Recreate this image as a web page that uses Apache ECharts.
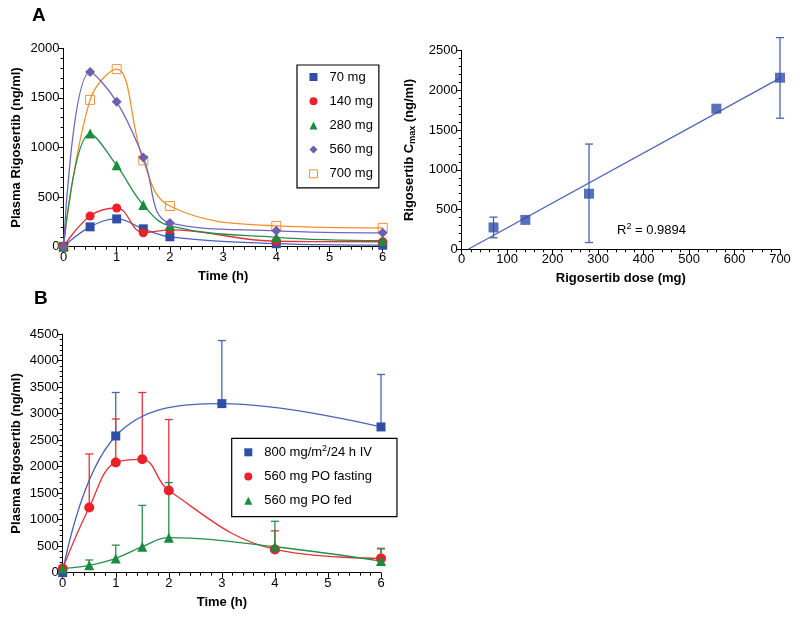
<!DOCTYPE html>
<html><head><meta charset="utf-8">
<script src="https://cdn.jsdelivr.net/npm/echarts@6/dist/echarts.min.js"></script>
<style>html,body{margin:0;padding:0;background:#fff}#c{width:800px;height:618px}</style>
</head><body><div id="c"></div>
<script>
// ---------- Panel A (left): plasma concentration by dose ----------
const timesA = [0, 0.5, 1, 1.5, 2, 4, 6];
const doseNames = ['70 mg', '140 mg', '280 mg', '560 mg', '700 mg'];
const mg70  = [0, 200, 280, 180, 100, 30, 15];
const mg140 = [0, 310, 390, 140, 170, 55, 50];
const mg280 = [0, 1140, 820, 420, 210, 95, 60];
const mg560 = [0, 1760, 1460, 900, 240, 160, 140];
const mg700 = [0, 1480, 1790, 870, 410, 210, 190];

// ---------- Panel A (right): Cmax vs dose ----------
const doses    = [70, 140, 280, 560, 700];
const cmax     = [275, 370, 700, 1770, 2160];
const cmaxLow  = [145, null, 85, null, 1650];
const cmaxHigh = [405, null, 1325, null, 2665];
const r2Text = '0.9894';

// ---------- Panel B ----------
const timesIV = [0, 1, 3, 6];
const ivMean  = [0, 2580, 3190, 2750];
const ivUpper = [null, 3400, 4380, 3740];
const timesPO = [0, 0.5, 1, 1.5, 2, 4, 6];
const fastMean  = [80, 1230, 2080, 2140, 1550, 440, 270];
const fastUpper = [null, 2240, 2900, 3400, 2890, 790, 460];
const fedMean   = [80, 140, 270, 490, 660, 490, 220];
const fedUpper  = [null, 240, 520, 1270, 1700, 970, 450];
const bNames = ['800 mg/m2/24 h IV', '560 mg PO fasting', '560 mg PO fed'];

const FONT = '"Liberation Sans", Arial, Helvetica, sans-serif';
const BLUE = '#2f4ea6', RED = '#e8212b', GREEN = '#1b8a3f', PURPLE = '#6d5fb0', ORANGE = '#f0923a';
const BLUE_L = '#4a63b4', RED_L = '#e83038', GREEN_L = '#23904a', PURPLE_L = '#7565bd', ORANGE_L = '#f3902a';

const pairs = (xs, ys) => xs.map((x, i) => [x, ys[i]]);

function axis(extra) {
  return Object.assign({
    type: 'value',
    nameLocation: 'middle',
    axisLine: { show: true, onZero: false, lineStyle: { color: '#000', width: 1 } },
    axisTick: { show: true, length: 5, lineStyle: { color: '#000', width: 1 } },
    minorTick: { show: true, splitNumber: 5, length: 3, lineStyle: { color: '#000', width: 1 } },
    splitLine: { show: false },
    minorSplitLine: { show: false },
    axisLabel: { color: '#000', fontSize: 13, fontFamily: FONT, margin: 4, showMinLabel: true, showMaxLabel: true,
      formatter: v => String(v) },
    nameTextStyle: { color: '#000', fontSize: 13, fontWeight: 'bold', fontFamily: FONT }
  }, extra);
}

function errBar(color, capW, twoSided) {
  return function (params, api) {
    const x = api.value(0), lo = api.value(1), hi = api.value(2);
    const p1 = api.coord([x, lo]), p2 = api.coord([x, hi]);
    const st = { stroke: color, lineWidth: 1.3 };
    const ch = [
      { type: 'line', shape: { x1: p1[0], y1: p1[1], x2: p2[0], y2: p2[1] }, style: st },
      { type: 'line', shape: { x1: p2[0] - capW / 2, y1: p2[1], x2: p2[0] + capW / 2, y2: p2[1] }, style: st }
    ];
    if (twoSided) ch.push({ type: 'line', shape: { x1: p1[0] - capW / 2, y1: p1[1], x2: p1[0] + capW / 2, y2: p1[1] }, style: st });
    return { type: 'group', children: ch };
  };
}

// regression from data
const n = doses.length;
const mx = doses.reduce((a, b) => a + b, 0) / n;
const my = cmax.reduce((a, b) => a + b, 0) / n;
let sxy = 0, sxx = 0;
for (let i = 0; i < n; i++) { sxy += (doses[i] - mx) * (cmax[i] - my); sxx += (doses[i] - mx) ** 2; }
const slope = sxy / sxx, icpt = my - slope * mx;
const xEnd = doses[n - 1];
const regLine = [[-icpt / slope, 0], [xEnd, slope * xEnd + icpt]];

const errA = doses.map((d, i) => [d, cmaxLow[i], cmaxHigh[i]]).filter(r => r[1] != null);
const errIV = timesIV.map((t, i) => [t, ivMean[i], ivUpper[i]]).filter(r => r[2] != null);
const errFast = timesPO.map((t, i) => [t, fastMean[i], fastUpper[i]]).filter(r => r[2] != null);
const errFed = timesPO.map((t, i) => [t, fedMean[i], fedUpper[i]]).filter(r => r[2] != null);

const SM = 0.4;
function lineSeries(name, xs, ys, sym, size, color, lineColor, xi, z, itemStyle) {
  return {
    type: 'line', name, data: pairs(xs, ys), xAxisIndex: xi, yAxisIndex: xi,
    smooth: SM, symbol: sym, symbolSize: size, showAllSymbol: true, z: z || 3,
    itemStyle: itemStyle || { color, borderWidth: 0 },
    lineStyle: { color: lineColor, width: 1.3 },
    emphasis: { disabled: true }, animation: false
  };
}

const chart = echarts.init(document.getElementById('c'), null, { renderer: 'canvas' });
chart.setOption({
  animation: false,
  backgroundColor: '#fff',
  textStyle: { fontFamily: FONT },
  grid: [
    { left: 63.5, top: 48.3, width: 319.2, height: 198.4, containLabel: false, outerBoundsMode: 'none' },
    { left: 461.7, top: 50.7, width: 318.3, height: 198.6, containLabel: false, outerBoundsMode: 'none' },
    { left: 62.7, top: 334.2, width: 318.3, height: 238.5, containLabel: false, outerBoundsMode: 'none' }
  ],
  xAxis: [
    axis({ gridIndex: 0, min: 0, max: 6, interval: 1, name: 'Time (h)', nameGap: 23 }),
    axis({ gridIndex: 1, min: 0, max: 700, interval: 100, name: 'Rigosertib dose (mg)', nameGap: 23 }),
    axis({ gridIndex: 2, min: 0, max: 6, interval: 1, name: 'Time (h)', nameGap: 23 })
  ],
  yAxis: [
    axis({ gridIndex: 0, min: 0, max: 2000, interval: 500, name: 'Plasma Rigosertib (ng/ml)', nameGap: 41 }),
    axis({ gridIndex: 1, min: 0, max: 2500, interval: 500, name: 'Rigosertib C{sub|max} (ng/ml)', nameGap: 45,
      nameTextStyle: { color: '#000', fontSize: 13, fontWeight: 'bold', fontFamily: FONT,
        rich: { sub: { fontSize: 9, fontWeight: 'bold', fontFamily: FONT, color: '#000', padding: [6, 0, 0, 0] } } } }),
    axis({ gridIndex: 2, min: 0, max: 4500, interval: 500, name: 'Plasma Rigosertib (ng/ml)', nameGap: 40 })
  ],
  legend: [
    {
      orient: 'vertical', left: 297, top: 65, selectedMode: false,
      data: [
        { name: '70 mg', icon: 'rect', itemStyle: { color: BLUE, borderWidth: 0 } },
        { name: '140 mg', icon: 'circle', itemStyle: { color: RED, borderWidth: 0 } },
        { name: '280 mg', icon: 'triangle', itemStyle: { color: GREEN, borderWidth: 0 } },
        { name: '560 mg', icon: 'diamond', itemStyle: { color: PURPLE, borderWidth: 0 } },
        { name: '700 mg', icon: 'rect', itemStyle: { color: '#fff', borderColor: ORANGE, borderWidth: 1 } }
      ],
      itemWidth: 8, itemHeight: 8, itemGap: 10.2, padding: [5, 6, 7, 12],
      borderColor: '#000', borderWidth: 1.2, backgroundColor: '#fff',
      textStyle: { fontSize: 13, color: '#000', fontFamily: FONT, lineHeight: 14, padding: [0, 0, 0, 7] }
    },
    {
      orient: 'vertical', left: 231.7, top: 438.3, selectedMode: false,
      data: [
        { name: bNames[0], icon: 'rect', itemStyle: { color: BLUE, borderWidth: 0 } },
        { name: bNames[1], icon: 'circle', itemStyle: { color: RED, borderWidth: 0 } },
        { name: bNames[2], icon: 'triangle', itemStyle: { color: GREEN, borderWidth: 0 } }
      ],
      formatter: name => name === bNames[0] ? '800 mg/m{sup|2}/24 h IV' : name,
      itemWidth: 8, itemHeight: 8, itemGap: 10.2, padding: [6, 25, 9, 12.6],
      borderColor: '#000', borderWidth: 1.2, backgroundColor: '#fff',
      textStyle: { fontSize: 13, color: '#000', fontFamily: FONT, lineHeight: 14, padding: [0, 0, 0, 7],
        rich: { sup: { fontSize: 9, color: '#000', fontFamily: FONT, padding: [0, 0, 7, 0] } } }
    }
  ],
  graphic: [
    { type: 'text', left: 32, top: 6.5, style: { text: 'A', font: 'bold 19px ' + FONT, fill: '#000' } },
    { type: 'text', left: 34, top: 289.5, style: { text: 'B', font: 'bold 19px ' + FONT, fill: '#000' } },
    { type: 'text', left: 617, top: 222, style: { text: 'R{sup|2} = ' + r2Text, font: '13px ' + FONT, fill: '#000',
        rich: { sup: { fontSize: 9, fontFamily: FONT, fill: '#000', padding: [0, 0, 7, 0] } } } }
  ],
  series: [
    lineSeries('70 mg', timesA, mg70, 'rect', 9, BLUE, BLUE_L, 0, 4),
    lineSeries('140 mg', timesA, mg140, 'circle', 9, RED, RED_L, 0, 4),
    lineSeries('280 mg', timesA, mg280, 'triangle', 10, GREEN, GREEN_L, 0, 4),
    lineSeries('560 mg', timesA, mg560, 'diamond', 10, PURPLE, PURPLE_L, 0, 4),
    lineSeries('700 mg', timesA, mg700, 'rect', 9, ORANGE, ORANGE_L, 0, 3,
      { color: 'rgba(255,255,255,0)', borderColor: ORANGE, borderWidth: 1 }),

    { type: 'custom', name: 'errA', xAxisIndex: 1, yAxisIndex: 1, data: errA, clip: false, z: 2,
      encode: { x: 0, y: [1, 2] }, renderItem: errBar(BLUE_L, 8, true), silent: true },
    { type: 'line', name: 'fit', xAxisIndex: 1, yAxisIndex: 1, data: regLine, showSymbol: false, symbol: 'none',
      lineStyle: { color: BLUE_L, width: 1.2 }, z: 2, silent: true },
    { type: 'scatter', name: 'Cmax', xAxisIndex: 1, yAxisIndex: 1, data: pairs(doses, cmax), symbol: 'rect',
      symbolSize: 10, itemStyle: { color: BLUE }, clip: false, z: 4 },

    { type: 'custom', name: 'errIV', xAxisIndex: 2, yAxisIndex: 2, data: errIV, clip: false, z: 2,
      encode: { x: 0, y: [1, 2] }, renderItem: errBar(BLUE_L, 8, false), silent: true },
    { type: 'custom', name: 'errFast', xAxisIndex: 2, yAxisIndex: 2, data: errFast, clip: false, z: 2,
      encode: { x: 0, y: [1, 2] }, renderItem: errBar(RED_L, 8, false), silent: true },
    { type: 'custom', name: 'errFed', xAxisIndex: 2, yAxisIndex: 2, data: errFed, clip: false, z: 2,
      encode: { x: 0, y: [1, 2] }, renderItem: errBar(GREEN_L, 8, false), silent: true },
    lineSeries(bNames[0], timesIV, ivMean, 'rect', 9, BLUE, BLUE_L, 2, 4),
    lineSeries(bNames[1], timesPO, fastMean, 'circle', 10, RED, RED_L, 2, 4),
    lineSeries(bNames[2], timesPO, fedMean, 'triangle', 10, GREEN, GREEN_L, 2, 4)
  ]
});
</script></body></html>
